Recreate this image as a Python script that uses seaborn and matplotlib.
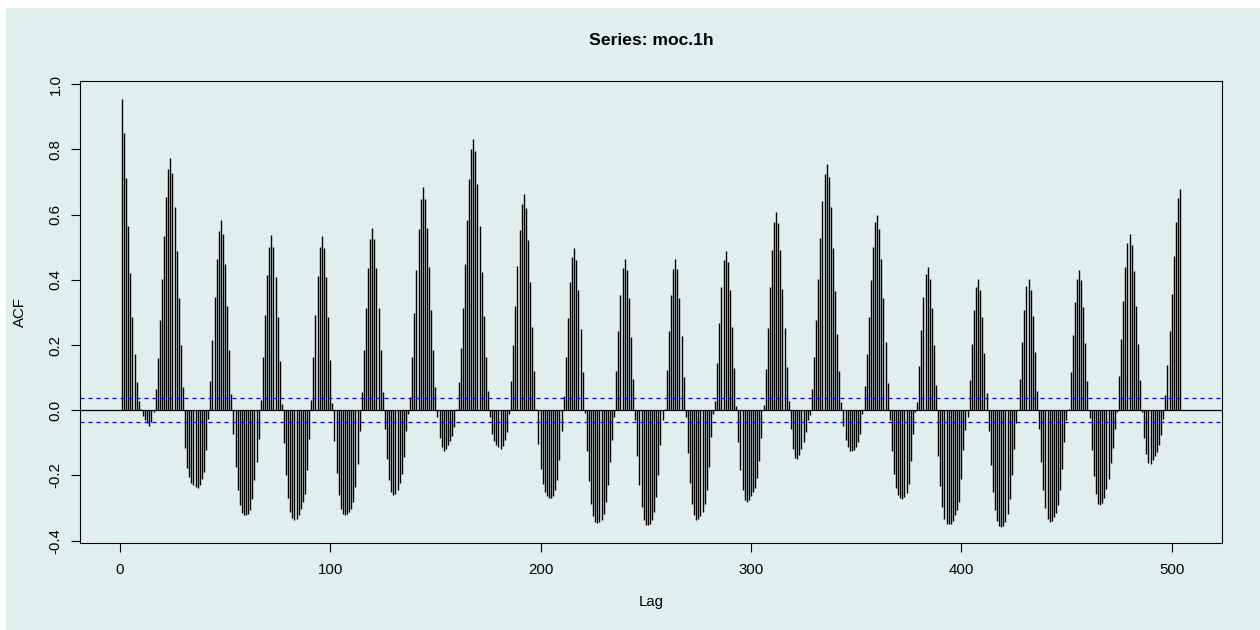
import numpy as np
import matplotlib
matplotlib.use("Agg")
import matplotlib.pyplot as plt
from matplotlib.patches import Rectangle
import seaborn as sns

# ACF of hourly series moc.1h, lags 1..504 (one row per day = 24 lags)
acf_vals = [
    0.956, 0.852, 0.714, 0.565, 0.420, 0.286, 0.173, 0.086, 0.029, 0.004, -0.018, -0.030,
    -0.039, -0.047, -0.036, -0.005, 0.066, 0.160, 0.276, 0.404, 0.536, 0.654, 0.741, 0.773,
    0.728, 0.625, 0.490, 0.343, 0.200, 0.070, -0.115, -0.176, -0.204, -0.223, -0.230, -0.235,
    -0.237, -0.230, -0.210, -0.189, -0.121, -0.026, 0.089, 0.217, 0.347, 0.465, 0.551, 0.583,
    0.542, 0.448, 0.321, 0.184, 0.049, -0.074, -0.174, -0.245, -0.290, -0.315, -0.322, -0.322,
    -0.318, -0.305, -0.272, -0.215, -0.160, -0.087, 0.033, 0.162, 0.293, 0.414, 0.501, 0.537,
    0.501, 0.408, 0.285, 0.150, 0.020, -0.100, -0.197, -0.269, -0.312, -0.330, -0.335, -0.333,
    -0.322, -0.302, -0.280, -0.256, -0.184, -0.087, 0.031, 0.162, 0.291, 0.411, 0.501, 0.535,
    0.499, 0.408, 0.286, 0.153, 0.022, -0.094, -0.192, -0.261, -0.302, -0.319, -0.320, -0.317,
    -0.312, -0.302, -0.281, -0.235, -0.164, -0.063, 0.055, 0.184, 0.315, 0.435, 0.524, 0.558,
    0.524, 0.435, 0.315, 0.184, 0.055, -0.058, -0.150, -0.215, -0.250, -0.261, -0.256, -0.245,
    -0.223, -0.194, -0.143, -0.064, -0.010, 0.041, 0.164, 0.297, 0.431, 0.555, 0.647, 0.685,
    0.649, 0.560, 0.440, 0.309, 0.184, 0.072, -0.020, -0.085, -0.112, -0.125, -0.118, -0.107,
    -0.095, -0.080, -0.051, 0.005, 0.087, 0.191, 0.314, 0.448, 0.583, 0.708, 0.800, 0.833,
    0.795, 0.695, 0.564, 0.424, 0.288, 0.164, 0.058, -0.020, -0.072, -0.095, -0.107, -0.112,
    -0.118, -0.110, -0.092, -0.066, -0.010, 0.090, 0.200, 0.319, 0.442, 0.552, 0.634, 0.662,
    0.619, 0.521, 0.394, 0.256, 0.121, 0.005, -0.102, -0.179, -0.225, -0.250, -0.264, -0.269,
    -0.268, -0.264, -0.245, -0.215, -0.153, -0.064, 0.043, 0.162, 0.283, 0.392, 0.470, 0.499,
    0.460, 0.370, 0.248, 0.118, -0.008, -0.125, -0.218, -0.286, -0.325, -0.343, -0.346, -0.343,
    -0.335, -0.317, -0.281, -0.230, -0.160, -0.090, -0.020, 0.120, 0.243, 0.353, 0.435, 0.465,
    0.430, 0.343, 0.225, 0.097, -0.029, -0.141, -0.230, -0.297, -0.335, -0.351, -0.351, -0.348,
    -0.337, -0.312, -0.266, -0.199, -0.107, -0.030, 0.005, 0.123, 0.243, 0.353, 0.434, 0.465,
    0.432, 0.343, 0.227, 0.102, -0.020, -0.131, -0.223, -0.288, -0.322, -0.335, -0.332, -0.325,
    -0.312, -0.288, -0.245, -0.174, -0.082, -0.010, 0.028, 0.146, 0.268, 0.378, 0.460, 0.490,
    0.455, 0.370, 0.256, 0.131, 0.012, -0.097, -0.182, -0.243, -0.275, -0.281, -0.275, -0.264,
    -0.250, -0.237, -0.207, -0.156, -0.085, 0.015, 0.128, 0.253, 0.378, 0.491, 0.576, 0.608,
    0.575, 0.491, 0.373, 0.251, 0.133, 0.029, -0.058, -0.118, -0.146, -0.149, -0.138, -0.118,
    -0.097, -0.066, -0.031, -0.013, 0.066, 0.164, 0.278, 0.402, 0.527, 0.641, 0.724, 0.756,
    0.716, 0.622, 0.498, 0.366, 0.235, 0.121, 0.026, -0.048, -0.092, -0.112, -0.125, -0.126,
    -0.123, -0.112, -0.097, -0.074, -0.010, 0.074, 0.174, 0.286, 0.399, 0.501, 0.576, 0.598,
    0.557, 0.463, 0.343, 0.210, 0.084, -0.031, -0.126, -0.194, -0.237, -0.261, -0.269, -0.271,
    -0.266, -0.254, -0.225, -0.156, -0.074, -0.005, 0.026, 0.135, 0.247, 0.346, 0.417, 0.440,
    0.404, 0.315, 0.201, 0.079, -0.140, -0.233, -0.297, -0.332, -0.348, -0.350, -0.348, -0.339,
    -0.322, -0.307, -0.281, -0.210, -0.121, -0.060, -0.020, 0.092, 0.204, 0.307, 0.378, 0.404,
    0.370, 0.286, 0.176, 0.054, -0.063, -0.167, -0.250, -0.307, -0.339, -0.356, -0.358, -0.354,
    -0.344, -0.317, -0.271, -0.200, -0.120, -0.040, 0.000, 0.095, 0.208, 0.308, 0.380, 0.404,
    0.370, 0.288, 0.179, 0.059, -0.056, -0.159, -0.243, -0.299, -0.332, -0.342, -0.339, -0.327,
    -0.315, -0.291, -0.245, -0.179, -0.097, -0.030, 0.005, 0.116, 0.232, 0.333, 0.404, 0.431,
    0.401, 0.316, 0.207, 0.089, -0.024, -0.123, -0.202, -0.256, -0.286, -0.291, -0.283, -0.269,
    -0.240, -0.210, -0.162, -0.116, -0.056, -0.005, 0.104, 0.220, 0.334, 0.438, 0.513, 0.542,
    0.508, 0.427, 0.319, 0.202, 0.092, -0.005, -0.084, -0.135, -0.162, -0.164, -0.153, -0.141,
    -0.128, -0.107, -0.077, -0.028, 0.046, 0.138, 0.243, 0.358, 0.473, 0.578, 0.652, 0.680,
]
lags = list(range(1, len(acf_vals) + 1))
conf_limit = 0.0365
y_ticks = [-0.4, -0.2, 0.0, 0.2, 0.4, 0.6, 0.8, 1.0]
x_ticks = [0, 100, 200, 300, 400, 500]

bg = "#e0eeee"

sns.set_theme(style="ticks", rc={
    "axes.facecolor": bg,
    "axes.edgecolor": "black",
    "axes.linewidth": 0.8,
    "xtick.major.size": 6.3,
    "ytick.major.size": 6.3,
    "xtick.major.width": 0.8,
    "ytick.major.width": 0.8,
    "xtick.color": "black",
    "ytick.color": "black",
    "text.color": "black",
    "axes.labelcolor": "black",
    "axes.unicode_minus": False,
})
plt.rcParams["font.family"] = ["Liberation Sans", "DejaVu Sans"]

fig = plt.figure(figsize=(12.6, 6.3), dpi=100)
fig.patch.set_facecolor("white")
# grey-blue panel behind everything, with a thin white margin top and left
fig.patches.append(Rectangle((6 / 1260, 0), 1, (630 - 8) / 630,
                             transform=fig.transFigure, color=bg, zorder=-10))

ax = fig.add_axes([79.7 / 1260, (630 - 543.3) / 630,
                   (1222.3 - 79.7) / 1260, (543.3 - 81) / 630])
ax.set_zorder(1)
ax.set_facecolor(bg)

ax.vlines(lags, 0, acf_vals, color="black", lw=1.0)
ax.axhline(0, color="black", lw=0.9)
for c in (conf_limit, -conf_limit):
    ax.axhline(c, color="#0000ff", lw=0.9, ls=(0, (3.2, 3.2)))

ax.set_xlim(-19.1, 524.1)
ax.set_ylim(-0.408, 1.010)
ax.set_xticks(x_ticks)
ax.set_xticklabels([str(t) for t in x_ticks], fontsize=10.8)
ax.set_yticks(y_ticks)
ax.set_yticklabels([f"{t:.1f}" for t in y_ticks], fontsize=10.8,
                   rotation=90, va="center")
ax.tick_params(axis="x", pad=8)
ax.tick_params(axis="y", pad=6)
for s in ax.spines.values():
    s.set_visible(True)

fig.text(651 / 1260, 1 - 40.7 / 630, "Series: moc.1h", ha="center", va="center",
         fontsize=12.6, fontweight="bold")
fig.text(651 / 1260, 1 - 602 / 630, "Lag", ha="center", va="center", fontsize=10.8)
fig.text(20 / 1260, 1 - 312 / 630, "ACF", ha="center", va="center",
         rotation=90, fontsize=10.8)

fig.savefig("out.png", dpi=100, facecolor="white")
